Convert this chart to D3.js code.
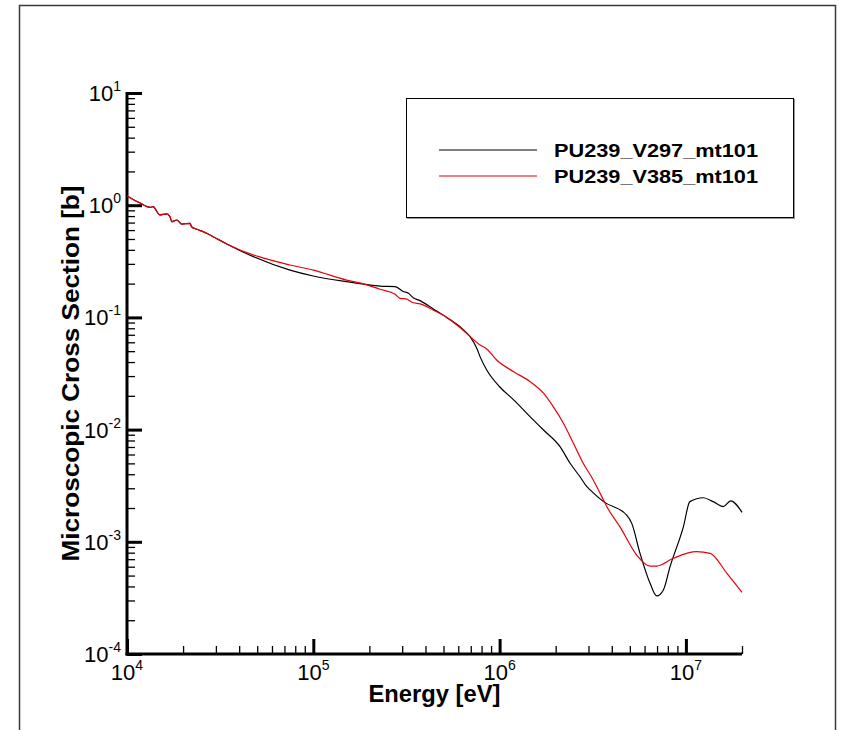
<!DOCTYPE html>
<html><head><meta charset="utf-8">
<script src="https://cdn.jsdelivr.net/npm/d3@7"></script>
<style>body{margin:0;background:#fff}svg{display:block}text{font-family:"Liberation Sans",Arial,sans-serif}</style>
</head><body>
<svg id="c" width="844" height="730"></svg>
<script>
const seriesNames = ["PU239_V297_mt101", "PU239_V385_mt101"];
const seriesColors = ["#000000", "#e8000b"];
const sharedE = [1.00e4,1.17e4,1.33e4,1.38e4,1.50e4,1.63e4,1.70e4,1.74e4,1.85e4,1.97e4,2.18e4,2.22e4,2.37e4,2.56e4,2.68e4,2.90e4,3.43e4];
const sharedS = [1.21,1.05,0.957,0.97,0.819,0.836,0.791,0.713,0.738,0.679,0.690,0.643,0.610,0.581,0.562,0.524,0.451];
const v297E = [7.50e4,1.00e5,1.51e5,1.90e5,2.28e5,2.75e5,3.04e5,3.24e5,3.44e5,3.74e5,4.41e5,5.20e5,6.26e5,6.94e5,7.54e5,7.85e5,8.53e5,1.00e6,1.19e6,1.46e6,1.72e6,2.11e6,2.39e6,2.70e6,2.94e6,3.06e6,3.61e6,4.81e6,5.12e6,5.67e6,6.42e6,6.97e6,7.57e6,8.22e6,9.69e6,1.05e7,1.24e7,1.40e7,1.59e7,1.74e7,2.00e7];
const v297S = [0.264,0.234,0.208,0.197,0.190,0.188,0.170,0.164,0.150,0.141,0.119,0.100,0.080,0.0673,0.0531,0.0447,0.0340,0.0241,0.0184,0.0130,0.00991,0.00704,0.00501,0.00380,0.00310,0.00290,0.00228,0.00173,0.00146,0.000789,0.000427,0.000329,0.000372,0.000600,0.00136,0.00228,0.00247,0.00228,0.00206,0.00232,0.00183];
const v385E = [7.50e4,1.00e5,1.51e5,1.90e5,2.28e5,2.75e5,2.92e5,3.15e5,3.44e5,3.74e5,4.41e5,5.20e5,6.26e5,7.85e5,8.53e5,9.64e5,1.19e6,1.46e6,1.72e6,1.94e6,2.20e6,2.49e6,2.81e6,3.18e6,3.61e6,3.76e6,4.43e6,5.44e6,6.42e6,6.97e6,8.55e6,1.14e7,1.35e7,1.66e7,2.00e7];
const v385S = [0.293,0.264,0.215,0.197,0.178,0.161,0.148,0.146,0.135,0.132,0.116,0.100,0.0789,0.0568,0.0523,0.0417,0.0328,0.0267,0.0211,0.0160,0.0114,0.00755,0.00501,0.00356,0.00236,0.00206,0.00136,0.000762,0.000608,0.000608,0.000713,0.000817,0.000789,0.000524,0.000355];
const xMajorTicks = [1e4,1e5,1e6,1e7];
const yMajorTicks = [1e-4,1e-3,1e-2,1e-1,1e0,1e1];
const xTickExp = ["4","5","6","7"];
const yTickExp = ["-4","-3","-2","-1","0","1"];
const xTitle = "Energy [eV]";
const yTitle = "Microscopic Cross Section [b]";

const svg = d3.select("#c");
const L = 127, R = 742, T = 93, B = 654;
const x = d3.scaleLog().domain([1e4, 2e7]).range([L, R]);
const y = d3.scaleLog().domain([1e-4, 1e1]).range([B, T]);

// outer frame
svg.append("rect").attr("x",19.5).attr("y",5.5).attr("width",816).attr("height",740)
  .attr("fill","none").attr("stroke","#3a3a3a").attr("stroke-width",1.5);

function minors(lo, hi) {
  const out = [];
  for (let d = lo; d < hi; d *= 10) for (let k = 2; k <= 9; k++) if (d*k <= hi) out.push(d*k);
  return out;
}
const xMinor = minors(1e4, 2e7);
const yMinor = minors(1e-4, 1e1);

// minor ticks
svg.append("g").attr("transform",`translate(0,${B})`)
  .call(d3.axisBottom(x).tickValues(xMinor).tickSize(-8).tickFormat(""))
  .call(g => { g.select(".domain").remove(); g.selectAll("line").attr("stroke","#000").attr("stroke-width",1.3); });
svg.append("g").attr("transform",`translate(${L},0)`)
  .call(d3.axisLeft(y).tickValues(yMinor).tickSize(-8).tickFormat(""))
  .call(g => { g.select(".domain").remove(); g.selectAll("line").attr("stroke","#000").attr("stroke-width",1.3); });

// major ticks
const gx = svg.append("g").attr("transform",`translate(0,${B})`)
  .call(d3.axisBottom(x).tickValues(xMajorTicks).tickSize(-15).tickSizeOuter(0).tickFormat(""));
gx.select(".domain").remove();
gx.selectAll("line").attr("stroke","#000").attr("stroke-width",3);
const gy = svg.append("g").attr("transform",`translate(${L},0)`)
  .call(d3.axisLeft(y).tickValues(yMajorTicks).tickSize(-15).tickSizeOuter(0).tickFormat(""));
gy.select(".domain").remove();
gy.selectAll("line").attr("stroke","#000").attr("stroke-width",3);

// axis lines
svg.append("line").attr("x1",L).attr("x2",L).attr("y1",T-1).attr("y2",B+1.5).attr("stroke","#000").attr("stroke-width",3);
svg.append("line").attr("x1",L-1.5).attr("x2",R).attr("y1",B).attr("y2",B).attr("stroke","#000").attr("stroke-width",3);

// tick labels
xMajorTicks.forEach((v,i) => {
  const t = svg.append("text").attr("x", x(v)).attr("y", B+26).attr("text-anchor","middle").attr("font-size",22);
  t.append("tspan").text("10");
  t.append("tspan").attr("dy",-10).attr("font-size",14).text(xTickExp[i]);
});
yMajorTicks.forEach((v,i) => {
  const t = svg.append("text").attr("x", L-6).attr("y", y(v)+8).attr("text-anchor","end").attr("font-size",22);
  t.append("tspan").text("10");
  t.append("tspan").attr("dy",-10).attr("font-size",14).text(yTickExp[i]);
});

// titles
svg.append("text").attr("x",(L+R)/2).attr("y",702).attr("text-anchor","middle")
  .attr("font-size",23).attr("font-weight","bold")
  .attr("textLength",132).attr("lengthAdjust","spacingAndGlyphs").text(xTitle);
svg.append("text").attr("transform",`translate(79,${(T+B)/2}) rotate(-90)`).attr("text-anchor","middle")
  .attr("font-size",24).attr("font-weight","bold")
  .attr("textLength",376).attr("lengthAdjust","spacingAndGlyphs").text(yTitle);

// curves
const line = d3.line().x(d => x(d[0])).y(d => y(d[1])).curve(d3.curveMonotoneX);
const s1 = sharedE.map((e,i)=>[e,sharedS[i]]).concat(v297E.map((e,i)=>[e,v297S[i]]));
const s2 = sharedE.map((e,i)=>[e,sharedS[i]]).concat(v385E.map((e,i)=>[e,v385S[i]]));
svg.append("path").datum(s1).attr("d",line).attr("fill","none").attr("stroke",seriesColors[0]).attr("stroke-width",1.2);
svg.append("path").datum(s2).attr("d",line).attr("fill","none").attr("stroke",seriesColors[1]).attr("stroke-width",1.2);

// legend
svg.append("rect").attr("x",407.5).attr("y",99.5).attr("width",387).attr("height",119)
  .attr("fill","none").attr("stroke","#999").attr("stroke-width",1);
svg.append("rect").attr("x",406.5).attr("y",98.5).attr("width",387).attr("height",119)
  .attr("fill","#fff").attr("stroke","#000").attr("stroke-width",1);
seriesNames.forEach((n,i) => {
  const yy = 150 + i*26;
  svg.append("line").attr("x1",439).attr("x2",537).attr("y1",yy).attr("y2",yy).attr("stroke",seriesColors[i]).attr("stroke-width",1.2);
  svg.append("text").attr("x",554).attr("y",yy+7).attr("font-size",19).attr("font-weight","bold")
    .attr("textLength",204).attr("lengthAdjust","spacingAndGlyphs").text(n);
});
</script>
</body></html>
